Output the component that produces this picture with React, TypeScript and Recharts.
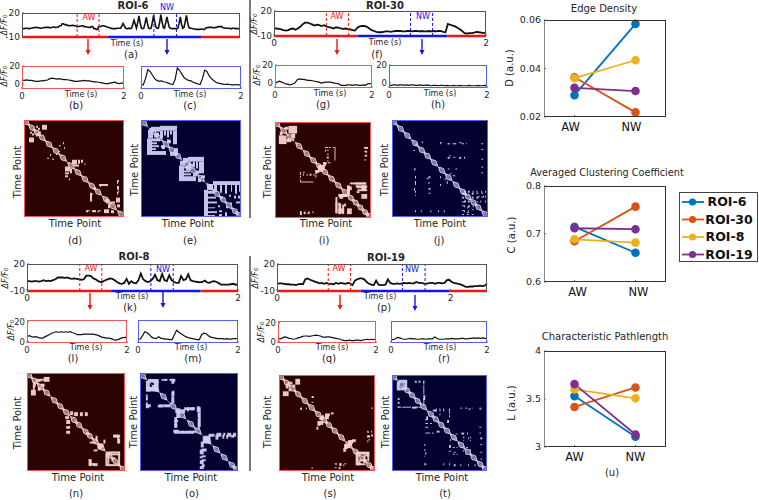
import {
  Line,
  LineChart,
  ReferenceArea,
  ReferenceLine,
  Scatter,
  ScatterChart,
  XAxis,
  YAxis,
} from "recharts";
import type { CSSProperties, ReactNode } from "react";

const FONT = "'DejaVu Sans', sans-serif";
const RED = "#f01414";
const BLUE = "#1414f0";
const INK = "#262626";

// full recordings, dF/F0
const traceA = [0,0.5,0.5,1,1,0.5,0.5,1,1,1.5,1.5,2,2,1.5,1.5,1,1,1.5,1.5,2,2,2,2,1.5,1.5,2.5,2.5,2,2,2.5,2.5,4,4,6.5,6.5,5.5,5.5,4.5,4.5,4,4,4.5,4.5,4,4,3,3,3.5,3.5,4,4,3,3,2.5,2.5,2,2,3,3,0.5,0.5,-0.5,-0.5,3,3,3.5,4,4,3.5,3,2.5,2,1.5,1,0.5,0.5,0.5,0.5,1,1,1,1,4,7,4,1,0.5,0.5,1,0.5,1,6,11,6,1,8,16.5,8,1,0.5,1,7,14.5,7,1,0.5,1,8,17,9,2,1,1,8,18,9,2,1,8,15,8,2,1,0.5,0.5,0.5,0.5,0.5,1,7,15,6,1,2,9,17,8,2,1,1,0.5,0,0,-0.5,-0.5,-0.5,-0.5,0,0,-0.5,-0.5,1.5,1.5,2,2,2,2,1.5,1.5,2,2,3,3,3,3,1.5,1.5,1,1,1,1,0.5,0.5,1,1,0.5,0.5,0.5,0.5,0.5];
const traceF = [-1,-1,-1.5,-2,-3,-3.5,-3,-1.5,-1,-2.5,-1,1,4,6,6,5,4,2.5,3.5,3,2,3,1.5,0.5,0,-1,0.5,0,-1,-1.5,-1,-1.5,-2,-3,-3.5,0,1.5,2,2,1,-1,-3,-4,-5,-5.5,-5.5,-5,-4.5,-4.5,-5,-4.5,-4,-4,-4,-4.5,-4.5,-4,-4,-4.5,-4,-4,-4.5,-4,-4.5,-4.5,-4,-4.5,-4,-4.5,-4,-4,-5,-5.5,4.5,3.5,2.5,1.5,0,-2,-4,-6.5,-7,-6.5,-6.5,-6,-5,-5.5,-6,-6.5,-5.5];
const traceK = [1,1,0.5,1,1,0.5,1,2,1,1.5,1,2,3,5,5,5,4.5,5,4,3.5,4,3.5,3,2.5,3,7,7,6.5,4,3,1,0,0.5,2,3,4,3.5,2,0,-1.5,-2,-1,3.5,-2,1,-1,-1.5,2,9.5,3,1,0,1,3.5,8,2,1,9,2,1,7.5,2,0,-1,-1,6.5,2,3,8.5,2,1,0.5,0,-0.5,0,1.5,-0.5,-1,0.5,1,0,-1.5,-3,-3,-3,-3,-2.5,-2,-3,-2.5];
const traceP = [-2,-1.5,-1.5,-2,-2.5,-2.5,-3,-3,-3.5,-2.5,-2,-2.5,3,4,2.5,1.5,0.5,-0.5,-1.5,-1,-2,-1,-2,-2,-2.5,-1,-2,-1,-1.5,-2,-1,-1.5,-3.5,1.5,3,4,4,3,0,-2,-3,-3.5,1.5,-3,-3.5,-3.5,-3,3,-1,-2,-2,-1.5,-2,-1.5,-1,-1.5,-1,-1.5,-1.5,0,-1,-1,-1.5,-2,-1.5,-1,-1,-2,-1,-1,-1.5,-1,2,2.5,0,-1,-1.5,-2,-3,-4,-5.5,-5.5,-5,-5,-4.5,-4.5,-4,-4.5,-4,-2];

// two second excerpts
const traceB = [4.5,4,4.5,4,4,3.5,3,3,3.5,3.5,4,4.5,6,6.5,6,5.5,6,5.5,5,5,4.5,4,3.5,3,3,3.5,3.5,4,3.5,3.5,3,2.5,2.5,2,1.5,1,0.5,0.5,1,1.5,2,1,0.5,1,1.5];
const traceC = [-1,-1,6,16,14,10,6,4,3,3.5,2.5,2,1,0,-0.5,5,18,15,11,7,5,4,3.5,2,1,0,-0.5,6,15.5,14,9,6,4,2,1,0.5,0,-0.5,0,-0.5,-1,-1,-0.5,-1,-1];
const traceG = [0,1,2,1,0,-1,-1.5,-2,-1,0,3.5,4.5,4,4,3.5,3,3,2.5,2,1.5,1,0,0.5,1,1,1,0.5,0,-0.5,-1,-2.5,-2.5,-2.5,-2,-2,-2.5,-2,-2,-2.5,-2.5,-2,-2.5,-1,-0.5,-1];
const traceH = [-3,-2.5,-2,-2,-2.5,-2,-2,-2.5,-2,-2.5,-2,-2,-2.5,-2.5,-2,-2.5,-2.5,-2,-2.5,-3,-2.5,-2.5,-3,-2.5,-2.5,-3,-2.5,-3,-3,-2.5,-3,-3,-2.5,-3,-3,-3,-2.5,-3,-3,-3,-2.5,-3,-3,-2.5,-3];
const traceL = [5,6,5,4.5,5,4,3.5,3.5,5,6,7.5,8.5,9.5,10,9.5,10,9.5,10,9.5,10,9,8.5,7,7,7,7.5,7.5,7.5,7.5,7.5,7,6.5,5.5,4.5,4,3.5,3.5,3,2,1.5,2,3,4,4,5];
const traceM = [2,2.5,6,10,9,7,4.5,3.5,3,5,3.5,3,2.5,2.5,2,2,7,11.5,9.5,8,6.5,5,4,3.5,3,2.5,2,2,7,8.5,8,6,4.5,4,3.5,3,3,3,2.5,3,2.5,2.5,3,3,3];
const traceQ = [3,3,4,5,4.5,3.5,3,2.5,3,4,4.5,5.5,6,6,5.5,6,6.5,7,6.5,6,5,4.5,5,5,4.5,4,3.5,3,2.5,1.5,1,1,1.5,1,1,1.5,1.5,1,1.5,2,2.5,2,2.5,2,3];
const traceR = [2,2,3,4.5,4,3,2.5,2.5,3,3.5,3,3,2.5,2.5,3,3,2.5,3,3,3,5,3.5,2.5,2.5,2.5,3,3,3,3.5,3,3,3,3.5,3.5,3,3,3.5,3.5,4,3.5,4,3.5,4,3.5,3.5];

// recurrence matrices: [col0, col1, row0, row1] in percent, mirrored over the diagonal
const blobsD = [[18,23,5,10],[12,14,6,8],[14,16,8,10],[14,17,12,14],[39,40,23,25],[40,41,28,30],[35,36,32,33],[26,27,35,37],[48,53,41,46],[54,56,41,45],[57,59,41,44],[50,55,46,48],[60,62,45,46],[93,94,63,66],[93,95,69,72],[93,94,74,77],[62,64,93,95],[68,71,93,95],[73,75,94,95],[80,85,92,96],[87,90,93,96],[66,68,75,84],[76,77,67,69],[81,86,82,84],[84,86,86,91],[70,72,69,71]];
const blobsE = [[10,19,7,12],[19,36,6,11],[19,22,11,19],[23,25,11,16],[26,28,11,18],[29,31,11,15],[32,36,11,25],[13,17,14,18],[20,23,26,29],[26,30,21,24],[33,37,29,36],[42,47,39,44],[47,63,38,43],[48,50,43,52],[52,54,43,49],[55,57,43,50],[58,63,43,55],[45,48,47,52],[52,56,55,58],[60,64,57,60],[67,72,66,72],[72,100,63,67],[73,76,67,74],[79,81,67,75],[84,86,67,76],[90,91,67,74],[94,96,67,76],[98,100,67,74],[80,82,79,81],[88,90,77,79],[93,95,78,81],[97,100,78,81],[95,100,84,86],[89,91,85,87]];
const blobsI = [[14,23,4,12],[10,14,5,8],[17,21,12,17],[52,55,26,27],[56,58,26,27],[60,62,26,27],[52,53,29,31],[93,97,26,28],[94,96,30,32],[94,96,34,36],[26,27,54,55],[29,30,54,56],[33,34,54,56],[36,38,54,56],[40,41,54,56],[26,40,62,63],[45,52,45,50],[50,54,42,44],[42,46,50,53],[55,58,42,43],[26,27,93,95],[30,31,93,95],[35,36,93,95],[39,40,93,95],[66,76,75,78],[78,95,63,65],[85,96,66,69],[75,80,67,71],[86,96,70,72],[75,78,71,75],[63,65,83,95],[66,72,90,95],[72,74,85,88],[66,68,84,87],[90,96,75,80]];
const blobsJ = [[75,77,73,75],[79,81,73,75],[84,85,73,75],[88,89,73,75],[93,94,73,75],[97,98,73,75],[90,91,78,80],[95,96,78,80],[97,98,78,80],[75,77,83,85],[79,81,83,85],[92,93,83,85],[97,98,83,85],[75,76,88,90],[79,81,88,90],[84,85,88,90],[75,76,93,95],[79,80,93,95],[25,26,24,26],[31,32,22,24],[50,51,24,25],[58,60,24,25],[65,66,24,25],[73,75,24,25],[77,78,24,25],[60,61,36,38],[70,72,38,40],[75,76,38,40],[23,24,50,52],[24,25,58,60],[24,25,63,67],[23,24,70,73],[38,40,58,60],[38,39,64,66],[50,51,58,60],[50,51,66,68],[55,56,60,62],[57,58,63,66],[24,25,93,95],[30,31,93,95],[40,41,93,95],[48,49,93,95],[54,55,93,95]];
const blobsN = [[17,23,4,9],[9,14,6,9],[13,17,6,8],[14,18,11,14],[44,47,39,43],[48,52,40,44],[54,57,40,44],[59,62,40,44],[88,94,63,65],[92,94,65,68],[82,95,80,82],[82,84,82,95],[93,95,82,95],[87,90,86,88],[63,66,88,95],[67,72,92,95],[72,78,72,76],[68,72,78,80],[64,70,70,72]];
const blobsO = [[8,19,6,10],[15,19,8,18],[7,16,14,18],[24,27,6,8],[30,33,6,8],[34,36,6,9],[6,11,32,35],[19,24,32,35],[24,31,32,35],[6,8,22,24],[6,8,26,28],[33,35,18,23],[48,50,35,39],[52,55,35,38],[58,62,35,40],[36,46,37,41],[34,38,58,61],[41,45,59,61],[47,58,59,61],[59,62,40,55],[35,38,45,56],[78,83,61,65],[85,87,61,64],[89,93,61,65],[95,98,61,65],[70,76,62,65],[65,72,64,71],[63,68,77,80],[63,67,84,86],[63,67,88,90],[63,66,93,96]];
const blobsS = [[17,22,4,10],[9,14,7,10],[14,17,10,13],[22,24,34,36],[28,29,34,36],[35,36,22,24],[44,47,42,46],[48,53,40,43],[54,57,39,41],[42,46,48,52],[92,93,58,60],[96,97,58,60],[92,94,63,65],[96,98,62,64],[92,93,68,70],[96,98,34,35],[72,77,68,72],[68,74,72,76],[67,70,76,80],[80,83,80,90],[82,94,80,82],[92,94,82,90],[83,92,88,90],[80,85,90,94],[59,60,92,94],[63,65,92,95],[67,68,93,95]];
const blobsT = [[7,16,5,8],[13,16,7,15],[24,26,6,8],[28,30,6,8],[33,34,6,10],[33,34,14,18],[33,35,21,26],[6,8,33,34],[11,14,33,34],[18,20,33,34],[24,32,33,34],[35,38,46,47],[35,38,50,51],[35,38,54,55],[35,38,60,61],[42,44,60,61],[47,50,58,60],[38,40,60,61],[50,51,40,42],[43,47,36,38],[72,74,34,35],[77,79,34,35],[84,85,34,35],[92,94,34,35],[67,69,61,62],[73,76,60,62],[79,80,60,62],[65,66,66,68],[80,81,65,67],[64,66,75,76],[68,69,75,76],[74,75,75,76],[78,80,75,76],[64,66,82,83],[68,69,82,83],[77,79,82,83],[35,36,80,83],[35,36,92,94],[54,55,92,94],[60,61,92,94],[65,67,93,95],[72,73,93,95],[80,81,93,95],[87,88,93,95]];

// knots sitting on the diagonal of each matrix
const knotsD = [2,8,13,18,25,32,39,47,54,61,68,74,82,89,97];
const knotsE = [3,12,18,25,31,37,46,52,60,69,76,82,88,94,98];
const knotsI = [2,9,16,25,33,40,46,52,59,66,73,79,84,89,94,98];
const knotsJ = [2,9,16,24,31,37,44,52,59,67,74,79,85,90,97];
const knotsN = [2,8,14,20,28,34,40,48,53,60,64,70,76,84,90,98];
const knotsO = [3,16,24,34,43,52,59,69,78,86,94,98];
const knotsS = [2,8,14,20,27,34,41,47,52,58,65,73,80,87,94,98];
const knotsT = [2,10,16,21,27,33,41,46,52,58,65,73,80,86,93,98];

// network measures, [AW, NW]
const roiNames = ["ROI-6", "ROI-30", "ROI-8", "ROI-19"];
const roiColors = ["#0072BD", "#D95319", "#EDB120", "#7E2F8E"];
const edgeDensity = [[0.029, 0.0584], [0.0364, 0.0219], [0.036, 0.0434], [0.032, 0.0307]];
const clustering = [[0.715, 0.661], [0.685, 0.757], [0.689, 0.682], [0.712, 0.71]];
const pathLength = [[3.53, 3.107], [3.417, 3.62], [3.6, 3.507], [3.655, 3.13]];

function T(props: { x: number; y: number; size?: number; rot?: number; color?: string; bold?: boolean; children: ReactNode }) {
  const { x, y, size = 8, rot = 0, color = INK, bold, children } = props;
  const style: CSSProperties = {
    position: "absolute",
    left: x,
    top: y,
    fontSize: size,
    fontFamily: FONT,
    fontWeight: bold ? 700 : 400,
    color,
    whiteSpace: "nowrap",
    lineHeight: 1,
    transform: `translate(-50%, -50%) rotate(${rot}deg)`,
  };
  return <div style={style}>{children}</div>;
}

const DeltaF = (props: { x: number; y: number; size?: number }) => (
  <T x={props.x} y={props.y} rot={-90} size={props.size ?? 8}>
    <i>ΔF/F</i>
    <span style={{ fontSize: "70%" }}>0</span>
  </T>
);

type Marks = { aw: number[]; nw: number[]; redEnd: number; blueEnd: number };

function Trace(props: {
  x: number; y: number; w: number; h: number;
  values: number[]; tMax?: number; lo: number; hi: number; yTicks: number[];
  xTicks?: number[]; border: string; lineWidth?: number; marks?: Marks; tickSize?: number;
}) {
  const { x, y, w, h, values, tMax = 2, lo, hi, yTicks, xTicks, border, lineWidth = 1.2, marks, tickSize = 8.5 } = props;
  const table = values.map((v, i) => ({ t: (i * tMax) / (values.length - 1), v }));
  const tick = { fontSize: tickSize, fill: INK, fontFamily: FONT };
  const edge = `${marks ? 1.5 : 1.3}px solid ${border}`;
  return (
    <>
      <div style={{ position: "absolute", left: x - 22, top: y - 6 }}>
        <LineChart width={w + 28} height={h + 18} data={table} margin={{ top: 6, right: 6, bottom: 0, left: 0 }}>
          <XAxis
            dataKey="t"
            type="number"
            domain={[0, tMax]}
            ticks={xTicks ?? []}
            tick={xTicks ? tick : false}
            tickSize={xTicks ? -2 : 0}
            tickMargin={6}
            axisLine={false}
            interval={0}
            height={12}
          />
          <YAxis
            type="number"
            domain={[lo, hi]}
            ticks={yTicks}
            tick={tick}
            tickSize={-2}
            tickMargin={4}
            axisLine={false}
            interval={0}
            width={22}
          />
          <Line dataKey="v" stroke="#111" strokeWidth={lineWidth} dot={false} isAnimationActive={false} />
          {marks && <ReferenceLine ifOverflow="visible" segment={[{ x: 0, y: lo }, { x: marks.redEnd, y: lo }]} stroke={RED} strokeWidth={2.6} />}
          {marks && <ReferenceLine ifOverflow="visible" segment={[{ x: marks.redEnd, y: lo }, { x: marks.blueEnd, y: lo }]} stroke={BLUE} strokeWidth={2.6} />}
          {marks && <ReferenceLine ifOverflow="visible" segment={[{ x: marks.blueEnd, y: lo }, { x: tMax, y: lo }]} stroke={RED} strokeWidth={2.6} />}
          {marks?.aw.map((t) => <ReferenceLine key={t} x={t} ifOverflow="visible" stroke={RED} strokeDasharray="3 2" strokeWidth={1} />)}
          {marks?.nw.map((t) => <ReferenceLine key={t} x={t} ifOverflow="visible" stroke={BLUE} strokeDasharray="3 2" strokeWidth={1} />)}
        </LineChart>
      </div>
      <div style={{ position: "absolute", left: x, top: y, width: w, height: h, borderTop: edge, borderLeft: edge, borderRight: edge, borderBottom: marks ? "none" : edge, boxSizing: "border-box", pointerEvents: "none" }} />
    </>
  );
}

function Matrix(props: { x: number; y: number; w: number; h: number; blobs: number[][]; knots: number[]; back: string; ink: string; border: string }) {
  const { x, y, w, h, blobs, knots, back, ink, border } = props;
  const points = knots.map((k) => ({ x: k, y: k }));
  const knotShape = (p: any) => {
    const cx = p.cx, cy = p.cy;
    const pts = `${cx - 3.4},${cy - 3.4} ${cx + 1.8},${cy - 1.8} ${cx + 3.4},${cy + 3.4} ${cx - 1.8},${cy + 1.8}`;
    return <polygon points={pts} fill={ink} fillOpacity={0.5} stroke={ink} strokeWidth={1} />;
  };
  return (
    <div style={{ position: "absolute", left: x, top: y, width: w, height: h, background: back, filter: "blur(0.45px)" }}>
      <ScatterChart width={w} height={h} margin={{ top: 0, right: 0, bottom: 0, left: 0 }}>
        <XAxis type="number" dataKey="x" domain={[0, 100]} hide />
        <YAxis type="number" dataKey="y" domain={[0, 100]} reversed hide />
        {blobs.map((b, i) => <ReferenceArea key={`u${i}`} ifOverflow="visible" x1={b[0]} x2={b[1]} y1={b[2]} y2={b[3]} fill={ink} fillOpacity={0.95} stroke="none" />)}
        {blobs.map((b, i) => <ReferenceArea key={`l${i}`} ifOverflow="visible" x1={b[2]} x2={b[3]} y1={b[0]} y2={b[1]} fill={ink} fillOpacity={0.95} stroke="none" />)}
        <ReferenceLine ifOverflow="visible" segment={[{ x: 0, y: 0 }, { x: 100, y: 100 }]} stroke={ink} strokeOpacity={0.5} strokeWidth={1} />
        <Scatter data={points} shape={knotShape} isAnimationActive={false} />
      </ScatterChart>
      <div style={{ position: "absolute", inset: 0, border: `1.6px solid ${border}`, boxSizing: "border-box" }} />
    </div>
  );
}

function DotPlot(props: { x: number; y: number; w: number; h: number; rows: number[][]; lo: number; hi: number; yTicks: number[]; labelDx: number }) {
  const { x, y, w, h, rows, lo, hi, yTicks, labelDx } = props;
  const table = [1, 2].map((pos, i) => {
    const row: Record<string, number> = { pos };
    roiNames.forEach((name, r) => { row[name] = rows[r][i]; });
    return row;
  });
  const tick = { fontSize: 9.5, fill: INK, fontFamily: FONT };
  return (
    <>
      <div style={{ position: "absolute", left: x - 30, top: y - 6 }}>
        <LineChart width={w + 36} height={h + 24} data={table} margin={{ top: 6, right: 6, bottom: 0, left: 0 }}>
          <XAxis
            dataKey="pos"
            type="number"
            domain={[0.5, 2.5]}
            ticks={[1, 2]}
            tickFormatter={(v: number) => (v === 1 ? "AW" : "NW")}
            tick={{ fontSize: 11.5, fill: "#111", fontFamily: FONT, dx: labelDx }}
            tickSize={-2}
            tickMargin={8}
            axisLine={false}
            interval={0}
            height={18}
          />
          <YAxis
            type="number"
            domain={[lo, hi]}
            ticks={yTicks}
            tick={tick}
            tickSize={-2}
            tickMargin={5}
            axisLine={false}
            interval={0}
            width={30}
          />
          {roiNames.map((name, r) => (
            <Line
              key={name}
              dataKey={name}
              stroke={roiColors[r]}
              strokeWidth={1.8}
              dot={{ r: 3.4, fill: roiColors[r], stroke: roiColors[r] }}
              isAnimationActive={false}
            />
          ))}
        </LineChart>
      </div>
      <div style={{ position: "absolute", left: x, top: y, width: w, height: h, borderTop: "1px solid #333", borderRight: "1px solid #333", borderBottom: "1px solid #333", borderLeft: "1.5px solid #888", boxSizing: "border-box", pointerEvents: "none" }} />
    </>
  );
}

const RED_BOX = "#f25555";
const BLUE_BOX = "#5560ee";
const RED_BACK = "#2b0303";
const BLUE_BACK = "#02012f";
const RED_INK = "#f6d3cc";
const BLUE_INK = "#cfcff2";

const Arrow = (props: { x: number; y0: number; y1: number; color: string }) => {
  const { x, y0, y1, color } = props;
  return (
    <>
      <line x1={x} x2={x} y1={y0} y2={y1 - 4} stroke={color} strokeWidth={1.4} />
      <polygon points={`${x - 2.5},${y1 - 5} ${x + 2.5},${y1 - 5} ${x},${y1}`} fill={color} />
    </>
  );
};

export default function App() {
  return (
    <div style={{ position: "absolute", left: 0, top: 0, width: 759, height: 500, background: "#fff", overflow: "hidden", fontFamily: FONT }}>
      <svg width={759} height={500} style={{ position: "absolute", left: 0, top: 0 }}>
        <line x1={250} x2={250} y1={0} y2={218} stroke="#222" strokeWidth={1.2} />
        <line x1={250} x2={250} y1={256} y2={471} stroke="#222" strokeWidth={1.2} />
        <Arrow x={88} y0={39} y1={55} color={RED} />
        <Arrow x={167} y0={39} y1={55} color={BLUE} />
        <Arrow x={337} y0={39} y1={55} color={RED} />
        <Arrow x={422} y0={39} y1={55} color={BLUE} />
        <Arrow x={90} y0={293} y1={310} color={RED} />
        <Arrow x={163} y0={292} y1={308} color={BLUE} />
        <Arrow x={340} y0={295} y1={310} color={RED} />
        <Arrow x={415} y0={295} y1={311} color={BLUE} />
      </svg>

      {/* ROI-6 */}
      <T x={133} y={6} size={10} bold>ROI-6</T>
      <Trace x={22} y={13} w={218} h={24} values={traceA} lo={-10} hi={20} yTicks={[-10, 20]} border="#555" lineWidth={1.6} tickSize={9}
        marks={{ aw: [0.506, 0.707], nw: [1.21, 1.418], redEnd: 0.79, blueEnd: 1.643 }} />
      <T x={89} y={18} color={RED}>AW</T>
      <T x={167} y={8} color={BLUE}>NW</T>
      <T x={127} y={44}>Time (s)</T>
      <T x={131} y={55} size={10}>(a)</T>
      <DeltaF x={5} y={25} />
      <Trace x={22} y={66} w={102} h={23} values={traceB} lo={-5.5} hi={20} yTicks={[0, 20]} xTicks={[0, 2]} border={RED_BOX} />
      <DeltaF x={5} y={76} />
      <T x={81} y={95}>Time (s)</T>
      <T x={76} y={106} size={10}>(b)</T>
      <Trace x={141} y={66} w={100} h={23} values={traceC} lo={-5.5} hi={20} yTicks={[]} xTicks={[0, 2]} border={BLUE_BOX} />
      <T x={190} y={95}>Time (s)</T>
      <T x={190} y={106} size={10}>(c)</T>
      <Matrix x={24} y={120} w={100} h={97} blobs={blobsD} knots={knotsD} back={RED_BACK} ink={RED_INK} border={RED_BOX} />
      <Matrix x={141} y={120} w={100} h={97} blobs={blobsE} knots={knotsE} back={BLUE_BACK} ink={BLUE_INK} border={BLUE_BOX} />
      <T x={18} y={172} size={10} rot={-90}>Time Point</T>
      <T x={75} y={224} size={10}>Time Point</T>
      <T x={135} y={170} size={10} rot={-90}>Time Point</T>
      <T x={188} y={224} size={10}>Time Point</T>
      <T x={75} y={241} size={10}>(d)</T>
      <T x={190} y={241} size={10}>(e)</T>

      {/* ROI-30 */}
      <T x={385} y={6} size={10} bold>ROI-30</T>
      <Trace x={274} y={11} w={212} h={25} values={traceF} lo={-10} hi={20} yTicks={[-10, 20]} xTicks={[0, 2]} border="#555" lineWidth={1.8} tickSize={9}
        marks={{ aw: [0.494, 0.702], nw: [1.288, 1.496], redEnd: 0.787, blueEnd: 1.638 }} />
      <T x={337} y={17} color={RED}>AW</T>
      <T x={423} y={17} color={BLUE}>NW</T>
      <T x={385} y={43}>Time (s)</T>
      <T x={377} y={55} size={10}>(f)</T>
      <DeltaF x={255} y={24} />
      <Trace x={275} y={65} w={97} h={23} values={traceG} lo={-5.5} hi={20} yTicks={[0, 20]} xTicks={[0, 2]} border={RED_BOX} />
      <DeltaF x={258} y={75} />
      <T x={330} y={94}>Time (s)</T>
      <T x={323} y={105} size={10}>(g)</T>
      <Trace x={389} y={65} w={98} h={23} values={traceH} lo={-5.5} hi={20} yTicks={[0, 20]} xTicks={[0, 2]} border={BLUE_BOX} />
      <T x={440} y={94}>Time (s)</T>
      <T x={438} y={105} size={10}>(h)</T>
      <Matrix x={275} y={122} w={96} h={96} blobs={blobsI} knots={knotsI} back={RED_BACK} ink={RED_INK} border={RED_BOX} />
      <Matrix x={392} y={120} w={96} h={97} blobs={blobsJ} knots={knotsJ} back={BLUE_BACK} ink={BLUE_INK} border={BLUE_BOX} />
      <T x={268} y={172} size={10} rot={-90}>Time Point</T>
      <T x={326} y={224} size={10}>Time Point</T>
      <T x={385} y={170} size={10} rot={-90}>Time Point</T>
      <T x={440} y={224} size={10}>Time Point</T>
      <T x={324} y={241} size={10}>(i)</T>
      <T x={439} y={241} size={10}>(j)</T>

      {/* ROI-8 */}
      <T x={134} y={257} size={10} bold>ROI-8</T>
      <Trace x={27} y={264} w={211} h={27} values={traceK} lo={-10} hi={20} yTicks={[-10, 20]} xTicks={[0, 2]} border="#555" lineWidth={1.8} tickSize={9}
        marks={{ aw: [0.5, 0.709], nw: [1.174, 1.386], redEnd: 0.797, blueEnd: 1.646 }} />
      <T x={91} y={269} color={RED}>AW</T>
      <T x={163} y={270} color={BLUE}>NW</T>
      <T x={132} y={297}>Time (s)</T>
      <T x={130} y={308} size={10}>(k)</T>
      <DeltaF x={6} y={278} />
      <Trace x={27} y={320} w={100} h={23} values={traceL} lo={-1.5} hi={22} yTicks={[0, 20]} xTicks={[0, 2]} border={RED_BOX} />
      <DeltaF x={12} y={330} />
      <T x={86} y={348}>Time (s)</T>
      <T x={73} y={359} size={10}>(l)</T>
      <Trace x={138} y={320} w={100} h={23} values={traceM} lo={-1.5} hi={22} yTicks={[]} xTicks={[0, 2]} border={BLUE_BOX} />
      <T x={191} y={348}>Time (s)</T>
      <T x={193} y={359} size={10}>(m)</T>
      <Matrix x={27} y={373} w={98} h={98} blobs={blobsN} knots={knotsN} back={RED_BACK} ink={RED_INK} border={RED_BOX} />
      <Matrix x={140} y={373} w={98} h={98} blobs={blobsO} knots={knotsO} back={BLUE_BACK} ink={BLUE_INK} border={BLUE_BOX} />
      <T x={18} y={423} size={10} rot={-90}>Time Point</T>
      <T x={78} y={478} size={10}>Time Point</T>
      <T x={134} y={422} size={10} rot={-90}>Time Point</T>
      <T x={191} y={478} size={10}>Time Point</T>
      <T x={76} y={494} size={10}>(n)</T>
      <T x={192} y={494} size={10}>(o)</T>

      {/* ROI-19 */}
      <T x={386} y={258} size={10} bold>ROI-19</T>
      <Trace x={277} y={264} w={210} h={27} values={traceP} tMax={2.418} lo={-10} hi={20} yTicks={[-10, 20]} xTicks={[0, 2]} border="#555" lineWidth={1.8} tickSize={9}
        marks={{ aw: [0.59, 0.847], nw: [1.444, 1.705], redEnd: 0.962, blueEnd: 1.989 }} />
      <T x={339} y={269} color={RED}>AW</T>
      <T x={412} y={270} color={BLUE}>NW</T>
      <T x={380} y={297}>Time (s)</T>
      <T x={384} y={308} size={10}>(p)</T>
      <DeltaF x={256} y={278} />
      <Trace x={278} y={321} w={98} h={22} values={traceQ} lo={-1.5} hi={22} yTicks={[0, 20]} xTicks={[0, 2]} border={RED_BOX} />
      <DeltaF x={262} y={332} />
      <T x={332} y={348}>Time (s)</T>
      <T x={329} y={359} size={10}>(q)</T>
      <Trace x={391} y={321} w={96} h={22} values={traceR} lo={-1.5} hi={22} yTicks={[]} xTicks={[0, 2]} border={BLUE_BOX} />
      <T x={440} y={348}>Time (s)</T>
      <T x={444} y={359} size={10}>(r)</T>
      <Matrix x={279} y={375} w={96} h={96} blobs={blobsS} knots={knotsS} back={RED_BACK} ink={RED_INK} border={RED_BOX} />
      <Matrix x={392} y={375} w={95} h={96} blobs={blobsT} knots={knotsT} back={BLUE_BACK} ink={BLUE_INK} border={BLUE_BOX} />
      <T x={268} y={422} size={10} rot={-90}>Time Point</T>
      <T x={328} y={478} size={10}>Time Point</T>
      <T x={386} y={422} size={10} rot={-90}>Time Point</T>
      <T x={442} y={478} size={10}>Time Point</T>
      <T x={330} y={494} size={10}>(s)</T>
      <T x={445} y={494} size={10}>(t)</T>

      {/* network measures */}
      <T x={604} y={9} size={10}>Edge Density</T>
      <DotPlot x={544} y={20} w={122} h={97} rows={edgeDensity} lo={0.02} hi={0.06} yTicks={[0.02, 0.04, 0.06]} labelDx={-4} />
      <T x={510} y={68} size={10} rot={-90}>D (a.u.)</T>
      <T x={607} y={173} size={9.7}>Averaged Clustering Coefficient</T>
      <DotPlot x={544} y={186} w={122} h={96} rows={clustering} lo={0.6} hi={0.8} yTicks={[0.6, 0.7, 0.8]} labelDx={3} />
      <T x={512} y={235} size={10} rot={-90}>C (a.u.)</T>
      <T x={605} y={337} size={10}>Characteristic Pathlength</T>
      <DotPlot x={544} y={351} w={122} h={96} rows={pathLength} lo={3} hi={4} yTicks={[3, 3.5, 4]} labelDx={0} />
      <T x={512} y={403} size={10} rot={-90}>L (a.u.)</T>
      <T x={612} y={473} size={10}>(u)</T>

      <div style={{ position: "absolute", left: 679, top: 192, width: 79, height: 70, border: "1.3px solid #444", boxSizing: "border-box" }} />
      <svg width={30} height={70} style={{ position: "absolute", left: 679, top: 192 }}>
        {roiNames.map((name, r) => (
          <g key={name}>
            <line x1={3} x2={25} y1={10 + r * 17.5} y2={10 + r * 17.5} stroke={roiColors[r]} strokeWidth={1.8} />
            <circle cx={13.5} cy={10 + r * 17.5} r={3.6} fill={roiColors[r]} />
          </g>
        ))}
      </svg>
      {roiNames.map((name, r) => (
        <T key={name} x={r === 0 ? 727 : r === 2 ? 725 : 729} y={202 + r * 17.7} size={12.5} bold color="#111">{name}</T>
      ))}
    </div>
  );
}
